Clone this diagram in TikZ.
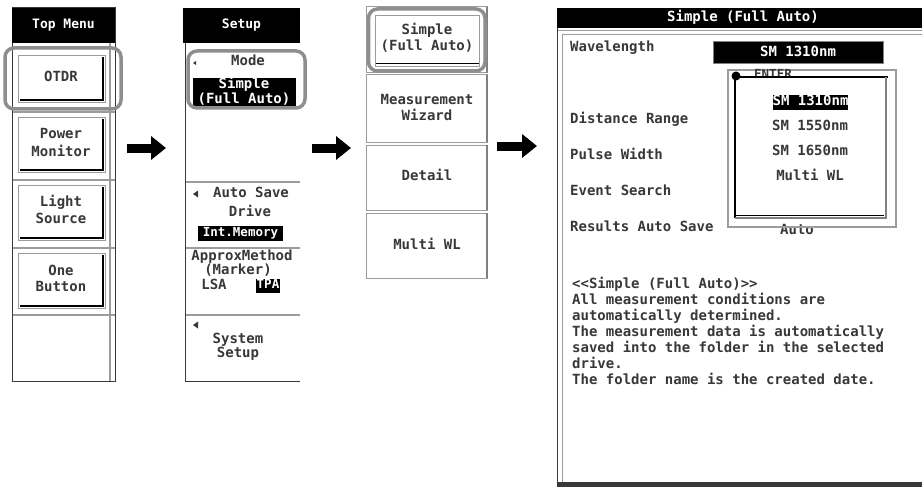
\documentclass[tikz,border=0pt]{standalone}
\usepackage{fontspec}
\newfontfamily\scr{DejaVu Sans Mono}
\usetikzlibrary{arrows.meta}
\definecolor{ink}{HTML}{383838}
\definecolor{hl}{HTML}{8E8E8E}
\definecolor{rulegray}{HTML}{9C9C9C}
\tikzset{
  lbl/.style={font=\scr\bfseries\fontsize{14}{15}\selectfont, text=ink, inner sep=0pt, anchor=mid},
  wlbl/.style={lbl, text=white},
  hdr/.style={font=\scr\bfseries\fontsize{13}{14}\selectfont, text=white, inner sep=0pt, anchor=mid},
  slbl/.style={font=\scr\bfseries\fontsize{12.5}{14}\selectfont, text=white, inner sep=0pt, anchor=mid},
  rlbl/.style={font=\scr\bfseries\fontsize{14}{16}\selectfont, text=ink, inner sep=0pt, anchor=mid west},
  rctr/.style={font=\scr\bfseries\fontsize{14}{16}\selectfont, text=ink, inner sep=0pt, anchor=mid},
  hilite/.style={draw=hl, line width=3.5pt, rounded corners=9pt},
  sepline/.style={draw=rulegray, line width=1.3pt},
  frameline/.style={draw=ink, line width=1pt},
  btnedge/.style={draw=rulegray, line width=0.8pt, fill=white},
  btnshadow/.style={draw=black, line width=2.2pt},
  boxedge/.style={draw=rulegray, line width=1pt},
  blockarrow/.style={line width=9pt, line cap=butt, -{Triangle[width=23pt,length=15pt]}},
}
\begin{document}
\begin{tikzpicture}[x=1pt,y=-1pt]
\useasboundingbox (0,0) rectangle (922,487);
\fill[white] (0,0) rectangle (922,487);

% ---------------- Top Menu soft keys ----------------
\filldraw[fill=white, frameline] (12,8) rectangle (115,381);
\draw[rulegray, line width=1.2pt] (110,43) -- (110,381);
\fill[black] (12,8) rectangle (115,43);
\node[hdr] (tmhead) at (63.5,26) {Top Menu};
\foreach \y in {112,180,248,315} \draw[sepline] (12.5,\y) -- (114.5,\y);
\foreach \ya/\yb in {55/102,117/172,185/240,253/308} {
  \draw[btnedge] (18,\ya) rectangle (105,\yb);
  \draw[btnshadow] (20,{\yb-2}) -- (103,{\yb-2}) -- (103,{\ya+2});
}
\draw[hilite] (5,48) rectangle (121,109);
\node[lbl] (otdr) at (61,79) {OTDR};
\node[lbl] (pm1) at (61,136) {Power};
\node[lbl] (pm2) at (61,154) {Monitor};
\node[lbl] (ls1) at (61,204) {Light};
\node[lbl] (ls2) at (61,221) {Source};
\node[lbl] (ob1) at (61,273) {One};
\node[lbl] (ob2) at (61,289) {Button};

% ---------------- Setup soft keys ----------------
\draw[frameline] (185,43) -- (185,381) -- (300,381);
\fill[black] (183,8) rectangle (300,43);
\node[hdr] (suhead) at (241.5,26) {Setup};
\foreach \y in {182,248,315} \draw[sepline] (185.5,\y) -- (300,\y);
\fill[ink] (193,63) -- (196,61) -- (196,65) -- cycle;
\node[lbl] (mode) at (248,63) {Mode};
\fill[black] (193,78) rectangle (296,108);
\node[wlbl] (smp1) at (244,86) {Simple};
\node[wlbl] (smp2) at (244,101) {(Full Auto)};
\draw[hilite] (188,51) rectangle (305,108);
\fill[ink] (193,194) -- (198,190.5) -- (198,197.5) -- cycle;
\node[lbl] (as1) at (251,195) {Auto Save};
\node[lbl] (as2) at (250,214) {Drive};
\fill[black] (198,226) rectangle (283,241);
\node[slbl] (intmem) at (240.5,234) {Int.Memory};
\node[lbl] (am1) at (242,258) {ApproxMethod};
\node[lbl] (am2) at (238,272) {(Marker)};
\node[lbl] (lsa) at (214,287) {LSA};
\fill[black] (256,279) rectangle (280,293);
\node[slbl] (tpa) at (268,286.5) {TPA};
\fill[ink] (193,325) -- (198,321.5) -- (198,328.5) -- cycle;
\node[lbl] (ss1) at (238,341) {System};
\node[lbl] (ss2) at (238,355) {Setup};

% ---------------- Mode selection keys ----------------
\foreach \ya/\yb in {7/73,75/142,145/210,213/278} {
  \filldraw[fill=white, boxedge] (366,\ya) rectangle (487,\yb);
  \draw[draw=gray, line width=1.3pt] (487,\ya) -- (487,\yb);
}
\draw[btnedge] (375,15) rectangle (479,66);
\draw[black, line width=1.5pt] (376,63.5) -- (479,63.5);
\draw[hilite] (368.5,9) rectangle (485,71);
\node[lbl] (m1a) at (427,32) {Simple};
\node[lbl] (m1b) at (427,48) {(Full Auto)};
\node[lbl] (m2a) at (427,102) {Measurement};
\node[lbl] (m2b) at (427,118) {Wizard};
\node[lbl] (m3) at (427,178) {Detail};
\node[lbl] (m4) at (427,247) {Multi WL};

% ---------------- Step arrows ----------------
\coordinate (a1s) at (127,148);
\coordinate (a1e) at (166,148);
\coordinate (a2s) at (312,148);
\coordinate (a2e) at (351,148);
\coordinate (a3s) at (497,146);
\coordinate (a3e) at (537,146);
\draw[blockarrow] (a1s) -- (a1e);
\draw[blockarrow] (a2s) -- (a2e);
\draw[blockarrow] (a3s) -- (a3e);

% ---------------- Simple (Full Auto) screen ----------------
\fill[black] (557,8) rectangle (922,28);
\node[font=\scr\bfseries\fontsize{14}{16}\selectfont, text=white, inner sep=0pt, anchor=mid] (title) at (743,19) {Simple (Full Auto)};
\draw[ink, line width=1.2pt] (557.6,28) -- (557.6,487);
\draw[rulegray, line width=1.4pt] (562.5,34) -- (562.5,483);
\draw[rulegray, line width=1pt] (558,31) -- (922,31);
\draw[rulegray, line width=1pt] (563,34.5) -- (922,34.5);
\fill[ink] (557,482) rectangle (922,487);

\node[rlbl] (wl) at (570,49.5) {Wavelength};
\filldraw[fill=black, draw=gray, line width=1pt] (713,42) rectangle (883,64);
\node[font=\scr\bfseries\fontsize{14}{16}\selectfont, text=white, inner sep=0pt, anchor=mid] (wlval) at (798,54) {SM 1310nm};

\node[rlbl] (dr) at (570,121) {Distance Range};
\node[rlbl] (pw) at (570,157) {Pulse Width};
\node[rlbl] (es) at (570,193) {Event Search};
\node[rlbl] (ras) at (570,229) {Results Auto Save};
\node[rctr] (auto) at (797,232) {Auto};

% wavelength pull-down list
\draw[rulegray, line width=1.2pt] (728,70) -- (896,70) -- (896,227) -- (728,227) -- cycle;
\fill[white] (733,77) rectangle (887,218);
\node[rctr, font=\scr\bfseries\fontsize{12.5}{14}\selectfont] (enter) at (773,76.5) {ENTER};
\draw[black, line width=2.5pt] (735,218) -- (735,77) -- (888,77);
\draw[gray, line width=1.5pt] (886,77) -- (886,218) -- (735,218);
\draw[black, line width=1pt] (736,215.5) -- (884,215.5);
\fill[black] (736,76) circle (4.5);
\fill[black] (773,95) rectangle (848,110);
\node[rctr, text=white] (i1) at (810.5,103.5) {SM 1310nm};
\node[rctr] (i2) at (810,128.5) {SM 1550nm};
\node[rctr] (i3) at (810,153.5) {SM 1650nm};
\node[rctr] (i4) at (810,178.5) {Multi WL};

% description text
\foreach \t [count=\i] in {{<<Simple (Full Auto)>>},{All measurement conditions are},{automatically determined.},{The measurement data is automatically},{saved into the folder in the selected},{drive.},{The folder name is the created date.}}
  \node[rlbl] (desc\i) at (572,{286+16*(\i-1)}) {\t};
\end{tikzpicture}
\end{document}
